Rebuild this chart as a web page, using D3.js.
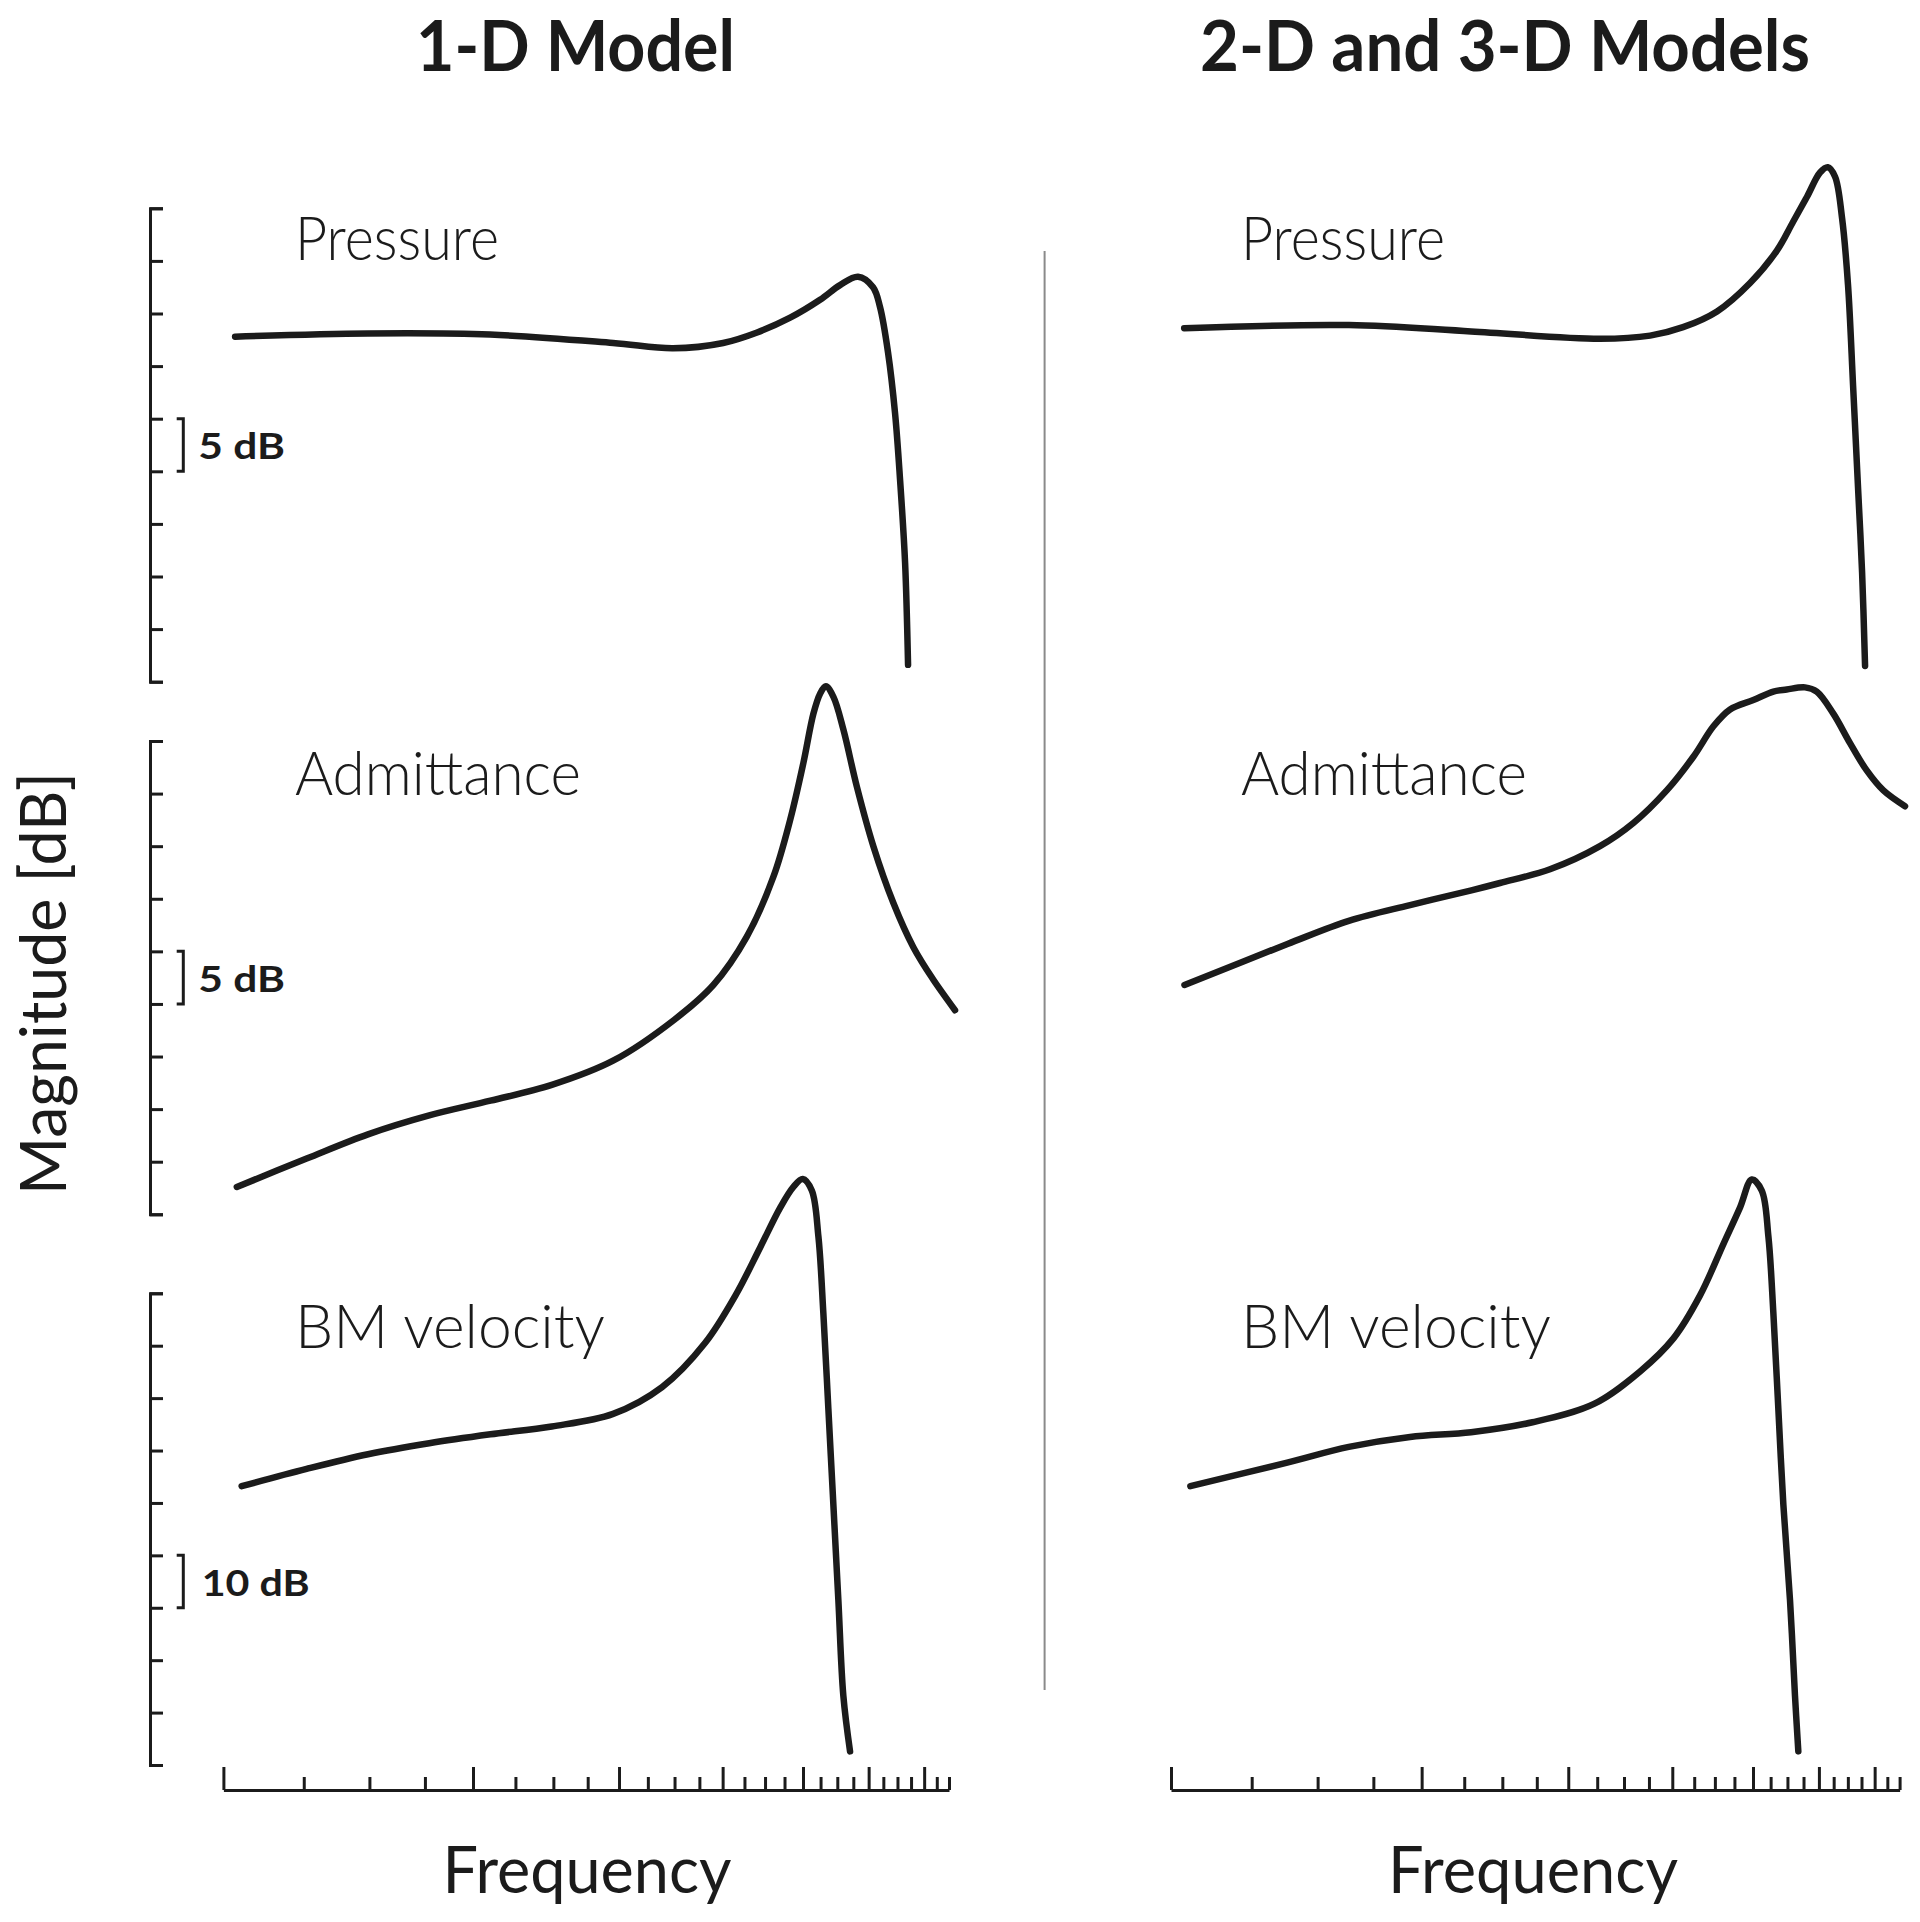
<!DOCTYPE html>
<html><head><meta charset="utf-8">
<script src="https://cdn.jsdelivr.net/npm/d3@7"></script>
<style>body{margin:0;background:#fff} svg{display:block}</style>
</head><body>
<svg id="chart" width="1920" height="1922"></svg>
<script>
// ---------------- DATA ----------------
const columnTitles = ["1-D Model", "2-D and 3-D Models"];
const panelNames = ["Pressure", "Admittance", "BM velocity"];
const xLabel = "Frequency";
const yLabel = "Magnitude [dB]";
const scaleBarLabels = ["5 dB", "5 dB", "10 dB"];
const scaleBarRanges = [[20, 25], [20, 25], [30, 40]];

const freqDomain = [1, 7.5];
const majorFreqTicks = [1, 2, 3, 4, 5, 6, 7];
const minorFreqTicks = [1.25, 1.5, 1.75, 2.25, 2.5, 2.75, 3.25, 3.5, 3.75, 4.25, 4.5, 4.75,
                        5.25, 5.5, 5.75, 6.25, 6.5, 6.75, 7.25, 7.5];
const dBTicks5 = [0, 5, 10, 15, 20, 25, 30, 35, 40, 45];
const dBTicks10 = [0, 10, 20, 30, 40, 50, 60, 70, 80, 90];

// 1-D model
const pressure1D_freq = [1.033, 1.494, 2.097, 2.951, 3.485, 4.006, 4.402, 4.825, 5.243, 5.542, 5.826, 6.074, 6.193, 6.332, 6.457, 6.547, 6.639, 6.694];
const pressure1D_dB   = [32.8, 33.1, 33.0, 32.2, 31.7, 32.2, 33.2, 34.6, 36.3, 37.7, 38.5, 37.5, 35.6, 31.3, 25.5, 19.2, 11.3, 1.6];

const admittance1D_freq = [1.038, 1.260, 1.494, 1.771, 2.099, 2.489, 2.951, 3.498, 3.898, 4.278, 4.606, 4.825, 5.005, 5.147, 5.243, 5.327, 5.441, 5.593, 5.805, 6.079, 6.427, 6.793, 7.181, 7.626];
const admittance1D_dB   = [2.6, 5.3, 7.6, 9.4, 10.8, 12.3, 14.6, 18.5, 21.8, 26.4, 32.1, 37.5, 42.9, 47.6, 49.5, 50.2, 49.2, 46.1, 40.7, 35.0, 29.6, 25.4, 22.3, 19.4];

const bmVelocity1D_freq = [1.052, 1.260, 1.494, 1.771, 2.099, 2.489, 2.951, 3.381, 3.809, 4.149, 4.441, 4.692, 4.869, 4.997, 5.124, 5.219, 5.291, 5.365, 5.440, 5.516, 5.593, 5.698];
const bmVelocity1D_dB   = [53.2, 56.5, 59.3, 61.4, 63.1, 64.6, 67.0, 72.1, 80.5, 89.7, 98.8, 106.3, 110.3, 111.8, 109.6, 100.8, 86.2, 68.0, 49.7, 31.5, 13.2, 2.6];

// 2-D and 3-D models
const pressure3D_freq = [1.037, 1.636, 2.293, 3.275, 3.762, 4.121, 4.527, 4.960, 5.344, 5.585, 5.806, 6.019, 6.149, 6.274, 6.396, 6.503, 6.595, 6.686, 6.761, 6.817];
const pressure3D_dB   = [33.6, 33.9, 33.3, 32.6, 32.9, 33.7, 35.2, 37.9, 41.0, 43.7, 46.1, 48.4, 48.9, 48.0, 44.1, 37.7, 28.1, 18.4, 10.4, 1.5];

const admittance3D_freq = [1.038, 1.380, 1.635, 1.937, 2.295, 2.484, 2.852, 3.275, 3.592, 3.939, 4.240, 4.482, 4.693, 5.005, 5.290, 5.489, 5.774, 5.964, 6.244, 6.539, 6.848, 7.171, 7.613];
const admittance3D_dB   = [21.8, 25.7, 27.9, 29.4, 30.8, 31.5, 32.8, 35.0, 37.2, 40.3, 43.5, 46.4, 48.0, 48.9, 49.7, 49.9, 50.1, 49.7, 47.6, 44.8, 42.2, 40.3, 38.8];

const bmVelocity3D_freq = [1.055, 1.379, 1.635, 1.937, 2.293, 2.718, 3.221, 3.659, 4.013, 4.319, 4.607, 4.825, 4.983, 5.123, 5.218, 5.290, 5.363, 5.438, 5.539, 5.616, 5.668];
const bmVelocity3D_dB   = [53.2, 57.7, 60.7, 62.6, 63.5, 65.4, 68.9, 75.1, 81.4, 89.6, 99.4, 106.4, 111.7, 109.6, 100.8, 86.2, 68.0, 49.7, 31.5, 13.2, 2.6];

// ---------------- LAYOUT ----------------
const ink = "#1b1b1b";
const svg = d3.select("#chart");
svg.append("rect").attr("width", 1920).attr("height", 1922).attr("fill", "#fff");

const xLeft = d3.scaleLog().domain(freqDomain).range([223.4, 949]);
const xRight = d3.scaleLog().domain(freqDomain).range([1171, 1899.6]);

const panelLayout = [
  {yDomain: [0, 45], yRange: [681.7, 208.3], ticks: dBTicks5, labelBaseline: 260},
  {yDomain: [0, 45], yRange: [1214.3, 741], ticks: dBTicks5, labelBaseline: 795},
  {yDomain: [0, 90], yRange: [1765, 1293.3], ticks: dBTicks10, labelBaseline: 1347.5}
];
const leftSeries = [
  [pressure1D_freq, pressure1D_dB],
  [admittance1D_freq, admittance1D_dB],
  [bmVelocity1D_freq, bmVelocity1D_dB]
];
const rightSeries = [
  [pressure3D_freq, pressure3D_dB],
  [admittance3D_freq, admittance3D_dB],
  [bmVelocity3D_freq, bmVelocity3D_dB]
];
const labelWidths = [204, 286, 310];

const fontMain = "Lato, 'Open Sans', 'DejaVu Sans', sans-serif";

panelLayout.forEach((p, i) => {
  const y = d3.scaleLinear().domain(p.yDomain).range(p.yRange);

  // y axis (left column only)
  const yAxis = d3.axisRight(y).tickValues(p.ticks).tickSize(13).tickSizeOuter(13).tickFormat("");
  const gy = svg.append("g").attr("transform", "translate(150,0)").attr("color", ink).call(yAxis);
  gy.selectAll("text").remove();
  gy.selectAll("path, line").attr("stroke-width", 3);

  // scale bar bracket
  const [b0, b1] = scaleBarRanges[i];
  const yb0 = y(b0), yb1 = y(b1);
  svg.append("path")
    .attr("d", `M176.7,${yb1} H183.3 V${yb0} H176.7`)
    .attr("fill", "none").attr("stroke", ink).attr("stroke-width", 3);
  const isTen = scaleBarLabels[i].length > 4;
  svg.append("text")
    .attr("x", isTen ? 201.7 : 198.3)
    .attr("y", (yb0 + yb1) / 2 + 14)
    .attr("font-family", fontMain).attr("font-weight", 700).attr("font-size", 37)
    .attr("textLength", isTen ? 108 : 86.7).attr("lengthAdjust", "spacingAndGlyphs")
    .attr("fill", ink)
    .text(scaleBarLabels[i]);

  // curves
  [[xLeft, leftSeries[i], 295], [xRight, rightSeries[i], 1241]].forEach(([x, s, lx]) => {
    const pts = s[0].map((f, k) => [f, s[1][k]]);
    const line = d3.line().x(d => x(d[0])).y(d => y(d[1])).curve(d3.curveCatmullRom.alpha(0.5));
    svg.append("path").attr("d", line(pts))
      .attr("fill", "none").attr("stroke", ink).attr("stroke-width", 6.5)
      .attr("stroke-linecap", "round").attr("stroke-linejoin", "round");
    svg.append("text")
      .attr("x", lx).attr("y", p.labelBaseline)
      .attr("font-family", fontMain).attr("font-weight", 300).attr("font-size", 62)
      .attr("textLength", labelWidths[i]).attr("lengthAdjust", "spacingAndGlyphs")
      .attr("fill", ink)
      .text(panelNames[i]);
  });
});

// x axes
[[xLeft, 442.5, 289], [xRight, 1388, 290]].forEach(([x, lx, lw]) => {
  const major = d3.axisTop(x).tickValues(majorFreqTicks).tickSize(23).tickSizeOuter(0).tickFormat("");
  const minor = d3.axisTop(x).tickValues(minorFreqTicks).tickSize(13).tickSizeOuter(0).tickFormat("");
  const g1 = svg.append("g").attr("transform", "translate(0,1790)").attr("color", ink).call(major);
  const g2 = svg.append("g").attr("transform", "translate(0,1790)").attr("color", ink).call(minor);
  [g1, g2].forEach(g => { g.selectAll("text").remove(); g.selectAll("path, line").attr("stroke-width", 3); });
  g2.select(".domain").remove();
  svg.append("text")
    .attr("x", lx).attr("y", 1893)
    .attr("font-family", fontMain).attr("font-weight", 400).attr("font-size", 66)
    .attr("textLength", lw).attr("lengthAdjust", "spacingAndGlyphs")
    .attr("fill", ink).text(xLabel);
});

// column titles
[[416, 319], [1200, 610]].forEach(([tx, tw], i) => {
  svg.append("text")
    .attr("x", tx).attr("y", 71)
    .attr("font-family", fontMain).attr("font-weight", 700).attr("font-size", 70)
    .attr("textLength", tw).attr("lengthAdjust", "spacingAndGlyphs")
    .attr("fill", ink).text(columnTitles[i]);
});

// y label
svg.append("text")
  .attr("transform", "translate(66,1195) rotate(-90)")
  .attr("font-family", fontMain).attr("font-weight", 400).attr("font-size", 64)
  .attr("textLength", 423).attr("lengthAdjust", "spacingAndGlyphs")
  .attr("fill", ink).text(yLabel);

// separator
svg.append("line")
  .attr("x1", 1044.6).attr("x2", 1044.6).attr("y1", 251).attr("y2", 1690)
  .attr("stroke", "#8a8a8a").attr("stroke-width", 2);
</script>
</body></html>
